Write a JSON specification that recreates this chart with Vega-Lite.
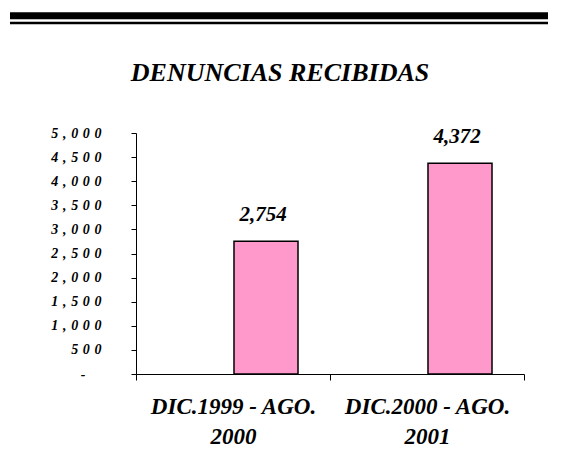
{
  "$schema": "https://vega.github.io/schema/vega-lite/v6.json",
  "width": 388,
  "height": 241,
  "autosize": {"type": "none"},
  "padding": {"left": 136, "top": 133, "right": 50, "bottom": 99},
  "background": "white",
  "config": {"view": {"stroke": null}, "font": "Liberation Serif, Times New Roman, serif"},
  "title": {
    "text": "DENUNCIAS RECIBIDAS",
    "font": "Liberation Serif, Times New Roman, serif",
    "fontSize": 26,
    "fontWeight": "bold",
    "fontStyle": "italic",
    "color": "black",
    "anchor": "middle",
    "baseline": "alphabetic",
    "dx": -50,
    "dy": 99
  },
  "data": {
    "values": [
      {"periodo": "DIC.1999 - AGO. 2000", "denuncias": 2754},
      {"periodo": "DIC.2000 - AGO. 2001", "denuncias": 4372}
    ]
  },
  "layer": [
    {
      "encoding": {
        "x": {
          "field": "periodo",
          "type": "nominal",
          "sort": null,
          "scale": {"paddingInner": 0, "paddingOuter": 0},
          "axis": {
            "title": null,
            "labelAngle": 0,
            "tickBand": "extent",
            "tickSize": 6,
            "domainColor": "black",
            "tickColor": "black",
            "labelColor": "black",
            "labelFont": "Liberation Serif, Times New Roman, serif",
            "labelFontSize": 23,
            "labelFontWeight": "bold",
            "labelFontStyle": "italic",
            "labelLineHeight": 30,
            "labelPadding": 15,
            "labelLimit": 400,
            "labelExpr": "[slice(datum.label, 0, 15), slice(datum.label, 16)]"
          }
        },
        "y": {
          "field": "denuncias",
          "type": "quantitative",
          "scale": {"domain": [0, 5000], "nice": false},
          "axis": {
            "title": null,
            "grid": false,
            "values": [0, 500, 1000, 1500, 2000, 2500, 3000, 3500, 4000, 4500, 5000],
            "labelOverlap": false,
            "domainColor": "black",
            "tickColor": "black",
            "tickSize": 5,
            "labelPadding": {"condition": {"test": "datum.value == 0", "value": 46}, "value": 30},
            "labelColor": "black",
            "labelFont": "Liberation Serif, Times New Roman, serif",
            "labelFontSize": 14,
            "labelFontWeight": "bold",
            "labelFontStyle": "italic",
            "labelExpr": "datum.value == 0 ? '-' : replace(format(datum.value, ','), regexp('(.)(?=.)', 'g'), '$1\u2004')"
          }
        }
      },
      "layer": [
        {
          "mark": {"type": "bar", "fill": "#FF99CC", "stroke": "black", "strokeWidth": 1.5, "width": {"band": 0.33}, "xOffset": 33}
        },
        {
          "mark": {"type": "text", "font": "Liberation Serif, Times New Roman, serif", "fontSize": 21, "fontWeight": "bold", "fontStyle": "italic", "color": "black", "baseline": "alphabetic", "dy": -20, "xOffset": 30},
          "encoding": {
            "text": {"field": "denuncias", "type": "quantitative", "format": ","}
          }
        }
      ]
    },
    {
      "data": {"values": [{"elemento": "filete superior"}]},
      "layer": [
        {
          "mark": {"type": "rule", "color": "black", "strokeWidth": 7, "strokeCap": "butt"},
          "encoding": {
            "x": {"datum": -126, "type": "quantitative", "scale": {"domain": [0, 388], "nice": false, "zero": false}, "axis": null},
            "x2": {"datum": 412},
            "y": {"datum": -117.25, "type": "quantitative", "scale": {"domain": [0, 241], "nice": false, "zero": false, "reverse": true}, "axis": null}
          }
        },
        {
          "mark": {"type": "rule", "color": "black", "strokeWidth": 2.5, "strokeCap": "butt"},
          "encoding": {
            "x": {"datum": -126, "type": "quantitative"},
            "x2": {"datum": 412},
            "y": {"datum": -110, "type": "quantitative"}
          }
        }
      ]
    }
  ],
  "resolve": {"scale": {"x": "independent", "y": "independent"}}
}
